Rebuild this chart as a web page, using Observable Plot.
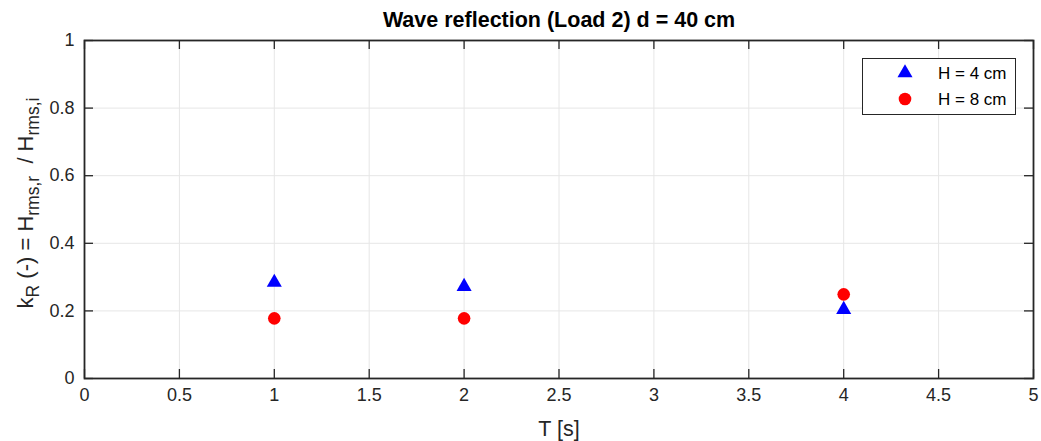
<!DOCTYPE html>
<html>
<head>
<meta charset="utf-8">
<script src="https://cdn.jsdelivr.net/npm/d3@7"></script>
<script src="https://cdn.jsdelivr.net/npm/@observablehq/plot@0.6"></script>
<style>
  body { margin: 0; background: #fff; }
  #chart svg { display: block; }
</style>
</head>
<body>
<div id="chart"></div>
<script>
const periods = [1, 2, 4];
const seriesNames = ["H = 4 cm", "H = 8 cm"];
const kR_H4 = [0.284, 0.272, 0.204];
const kR_H8 = [0.178, 0.178, 0.249];
const seriesColors = ["#0000ff", "#ff0000"];
const seriesSymbols = ["triangle", "circle"];
const xTicks = [0, 0.5, 1, 1.5, 2, 2.5, 3, 3.5, 4, 4.5, 5];
const yTicks = [0, 0.2, 0.4, 0.6, 0.8, 1];
const titleText = "Wave reflection (Load 2) d = 40 cm";
const xLabel = "T [s]";

const W = 1041, H = 441;
const mL = 84, mR = 8, mT = 40, mB = 63;
const frameH = H - mT - mB, frameW = W - mL - mR;
const tickLen = 9;

const dataH4 = periods.map((t, i) => ({T: t, kR: kR_H4[i], series: seriesNames[0]}));
const dataH8 = periods.map((t, i) => ({T: t, kR: kR_H8[i], series: seriesNames[1]}));

const font = "'Liberation Sans', Arial, Helvetica, sans-serif";
const fmt = d => String(d);
const axisColor = "#262626";

const plot = Plot.plot({
  width: W,
  height: H,
  marginLeft: mL,
  marginRight: mR,
  marginTop: mT,
  marginBottom: mB,
  style: {fontFamily: font, fontSize: "18px", color: axisColor, background: "#fff"},
  x: {domain: [0, 5], ticks: xTicks},
  y: {domain: [0, 1], ticks: yTicks},
  color: {domain: seriesNames, range: seriesColors},
  symbol: {domain: seriesNames, range: seriesSymbols},
  marks: [
    Plot.gridX(xTicks, {stroke: "#e6e6e6", strokeOpacity: 1, strokeWidth: 1}),
    Plot.gridY(yTicks, {stroke: "#e6e6e6", strokeOpacity: 1, strokeWidth: 1}),
    // inward ticks on all four sides
    Plot.ruleX(xTicks, {insetTop: frameH - tickLen, stroke: axisColor, strokeWidth: 1.3}),
    Plot.ruleX(xTicks, {insetBottom: frameH - tickLen, stroke: axisColor, strokeWidth: 1.3}),
    Plot.ruleY(yTicks, {insetRight: frameW - tickLen, stroke: axisColor, strokeWidth: 1.3}),
    Plot.ruleY(yTicks, {insetLeft: frameW - tickLen, stroke: axisColor, strokeWidth: 1.3}),
    Plot.axisX(xTicks, {anchor: "bottom", tickSize: 0, tickPadding: 10, tickFormat: fmt, label: null, fontSize: 18, fill: axisColor}),
    Plot.axisY(yTicks, {anchor: "left", tickSize: 0, tickPadding: 10, tickFormat: fmt, label: null, fontSize: 18, fill: axisColor}),
    Plot.frame({stroke: axisColor, strokeWidth: 1.8}),
    Plot.dot(dataH4, {x: "T", y: "kR", fill: "series", symbol: "series", r: 5.6, stroke: "none"}),
    Plot.dot(dataH8, {x: "T", y: "kR", fill: "series", symbol: "series", r: 6.3, stroke: "none"}),
    Plot.text([titleText], {frameAnchor: "top", lineAnchor: "middle", dy: -20, fontSize: 21.5, fontWeight: "bold", fill: "#000"}),
    Plot.text([xLabel], {frameAnchor: "bottom", lineAnchor: "middle", dy: 51, fontSize: 21.5, fill: axisColor})
  ]
});

document.getElementById("chart").appendChild(plot);

// y-axis label with subscripts
const svg = d3.select(plot);
const yl = svg.append("text")
  .attr("transform", "translate(33,203) rotate(-90)")
  .attr("text-anchor", "middle")
  .attr("font-family", font)
  .attr("font-size", 22)
  .attr("fill", axisColor);
yl.append("tspan").text("k");
yl.append("tspan").attr("dy", 6).attr("font-size", 17.5).text("R");
yl.append("tspan").attr("dy", -6).text(" (-) = H");
yl.append("tspan").attr("dy", 6).attr("font-size", 17.5).text("rms,r");
yl.append("tspan").attr("dy", -6).text("  / H");
yl.append("tspan").attr("dy", 6).attr("font-size", 17.5).text("rms,i");

// legend
const lg = svg.append("g").attr("font-family", font).attr("font-size", 17).attr("text-anchor", "start");
lg.append("rect").attr("x", 862.5).attr("y", 58.5).attr("width", 153).attr("height", 56)
  .attr("fill", "#fff").attr("stroke", axisColor).attr("stroke-width", 1);
seriesNames.forEach((name, i) => {
  const cy = 73 + i * 26;
  const isTri = seriesSymbols[i] === "triangle";
  const r = isTri ? 5.6 : 6.3;
  const sym = d3.symbol().type(isTri ? d3.symbolTriangle : d3.symbolCircle).size(Math.PI * r * r);
  lg.append("path").attr("d", sym()).attr("transform", `translate(905,${cy})`).attr("fill", seriesColors[i]);
  lg.append("text").attr("x", 938).attr("y", cy).attr("dy", "0.35em").attr("fill", "#000").text(name);
});
</script>
</body>
</html>
